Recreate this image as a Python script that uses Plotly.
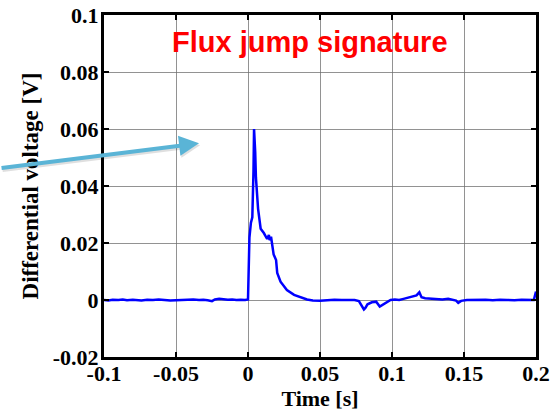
import plotly.graph_objects as go

time_s = [
    -0.1, -0.097, -0.094, -0.09, -0.087, -0.084, -0.08, -0.077, -0.074, -0.07,
    -0.066, -0.062, -0.058, -0.054, -0.05, -0.046, -0.042, -0.038, -0.034, -0.031,
    -0.028, -0.025, -0.023, -0.02, -0.017, -0.014, -0.011, -0.008, -0.005, -0.002,
    0.0, 0.0005, 0.001, 0.002, 0.003, 0.0038, 0.0042, 0.005, 0.0055, 0.007,
    0.0088, 0.011, 0.0133, 0.0145, 0.015, 0.016, 0.0178, 0.0195, 0.0203, 0.0226,
    0.027, 0.032, 0.036, 0.041, 0.045, 0.05, 0.055, 0.06, 0.065, 0.07,
    0.074, 0.077, 0.0805, 0.0815, 0.083, 0.086, 0.089, 0.0915, 0.093, 0.096,
    0.099, 0.102, 0.105, 0.108, 0.111, 0.114, 0.117, 0.119, 0.1205, 0.123,
    0.127, 0.131, 0.135, 0.139, 0.142, 0.1445, 0.146, 0.148, 0.152, 0.156,
    0.16, 0.165, 0.17, 0.175, 0.18, 0.185, 0.19, 0.195, 0.1985, 0.1995, 0.2,
]
voltage_v = [
    0.0, -0.0002, 0.0001, 0.0, 0.0002, -0.0001, 0.0001, 0.0, -0.0002, 0.0001,
    0.0, 0.0002, -0.0001, -0.0002, -0.0001, 0.0, 0.0001, 0.0002, 0.0, 0.0001,
    -0.0001, -0.0004, 0.0002, 0.0004, 0.0003, 0.0001, 0.0002, 0.0, 0.0001, 0.0,
    0.0002, 0.008, 0.022, 0.027, 0.029, 0.045, 0.060, 0.052, 0.043, 0.032,
    0.025, 0.0235, 0.0214, 0.0228, 0.021, 0.0222, 0.016, 0.014, 0.0095, 0.0064,
    0.0035, 0.0018, 0.001, 0.0002, -0.0002, -0.0003, -0.0001, 0.0001, 0.0, 0.0001,
    0.0, -0.0004, -0.0033, -0.0028, -0.0015, -0.0008, -0.0006, -0.0023, -0.0018, -0.0008,
    0.0, 0.0002, 0.0, 0.0004, 0.0008, 0.0012, 0.0016, 0.0027, 0.001, 0.0006,
    0.0005, 0.0003, 0.0002, 0.0004, 0.0001, -0.0002, -0.001, -0.0003, 0.0, 0.0001,
    0.0, 0.0001, -0.0001, 0.0001, 0.0, -0.0001, 0.0001, 0.0, 0.0, 0.002, 0.003,
]

x_ticks = [-0.1, -0.05, 0, 0.05, 0.1, 0.15, 0.2]
x_tick_labels = ["-0.1", "-0.05", "0", "0.05", "0.1", "0.15", "0.2"]
y_ticks = [-0.02, 0, 0.02, 0.04, 0.06, 0.08, 0.1]
y_tick_labels = ["-0.02", "0", "0.02", "0.04", "0.06", "0.08", "0.1"]

serif = "Liberation Serif"

fig = go.Figure()
fig.add_trace(go.Scatter(
    x=time_s, y=voltage_v, mode="lines",
    line=dict(color="#0000ff", width=2.5),
    showlegend=False,
))

axis_common = dict(
    showline=True, linecolor="black", linewidth=3, mirror="allticks",
    ticks="inside", ticklen=5, tickwidth=1.5, tickcolor="black",
    showgrid=True, gridcolor="rgba(110,110,110,0.75)", gridwidth=1,
    zeroline=False,
    tickfont=dict(family=serif, size=22, color="black", weight="bold"),
)

fig.update_xaxes(
    range=[-0.1, 0.2], tickvals=x_ticks, ticktext=x_tick_labels,
    ticklabelstandoff=-5,
    title=dict(text="<b>Time [s]</b>", font=dict(family=serif, size=22, color="black"), standoff=4),
    **axis_common,
)
fig.update_yaxes(
    range=[-0.02, 0.1], tickvals=y_ticks, ticktext=y_tick_labels,
    ticklabelstandoff=-2,
    title=dict(text="<b>Differential voltage [V]</b>", font=dict(family=serif, size=23, color="black"), standoff=8),
    **axis_common,
)

# Title inside the plot
fig.add_annotation(
    x=0.477, y=0.92, xref="paper", yref="paper",
    text="<b>Flux jump signature</b>", showarrow=False,
    font=dict(family="Liberation Sans", size=29, color="#ff0000"),
    xanchor="center", yanchor="middle",
)

# Pointer arrow shadow
fig.add_annotation(
    x=-0.034, y=0.055, xref="x", yref="y",
    ax=-199, ay=25, axref="pixel", ayref="pixel",
    xshift=1, yshift=-2,
    text="", showarrow=True, arrowhead=2, arrowsize=1.0, arrowwidth=4,
    arrowcolor="rgba(0,0,0,0.12)",
)
# Pointer arrow coming in from the left edge
fig.add_annotation(
    x=-0.034, y=0.055, xref="x", yref="y",
    ax=-199, ay=25, axref="pixel", ayref="pixel",
    text="", showarrow=True, arrowhead=2, arrowsize=1.0, arrowwidth=4,
    arrowcolor="#5ab4d6",
)

fig.update_layout(
    width=560, height=411,
    margin=dict(l=104, r=24, t=15, b=54, autoexpand=False),
    paper_bgcolor="white", plot_bgcolor="white",
)

fig.write_html("out.html")
